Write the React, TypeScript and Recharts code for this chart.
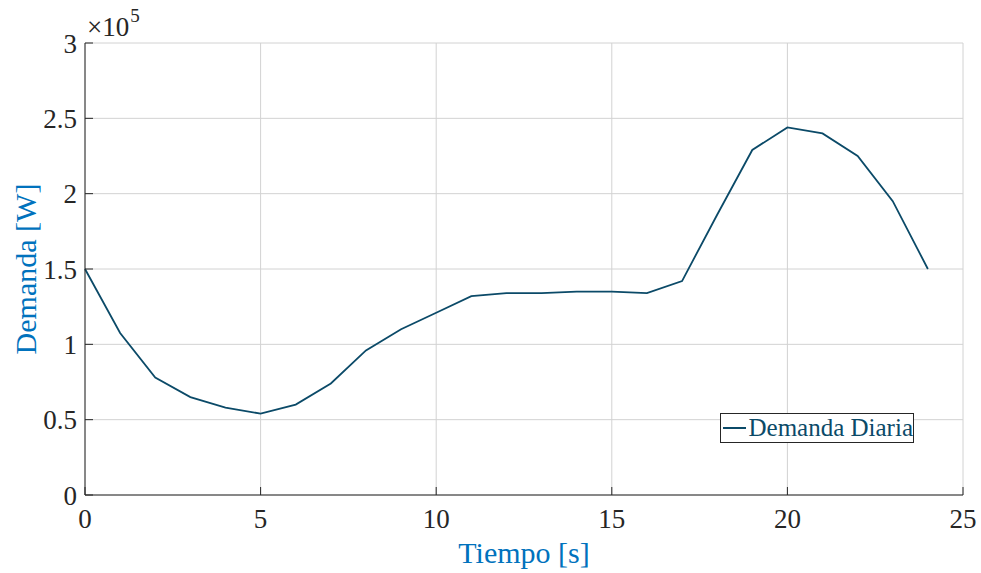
import { CartesianGrid, Line, LineChart, XAxis, YAxis } from 'recharts'

const hours = [0, 1, 2, 3, 4, 5, 6, 7, 8, 9, 10, 11, 12, 13, 14, 15, 16, 17, 18, 19, 20, 21, 22, 23, 24]
const demand = [
  150000, 107500, 78000, 65000, 58000, 54000, 60000, 74000, 96000, 110000, 121000, 132000, 134000,
  134000, 135000, 135000, 134000, 142000, 186000, 229000, 244000, 240000, 225000, 195000, 150000,
]
const xTicks = [0, 5, 10, 15, 20, 25]
const yTicks = [0, 50000, 100000, 150000, 200000, 250000, 300000]

const data = hours.map((h, i) => ({ hour: h, demand: demand[i] }))

const FONT = '"Liberation Serif", "DejaVu Serif", serif'
const AXIS = '#262626'
const LABEL = '#0072BD'
const LINE = '#0b4a68'

export default function App() {
  return (
    <div
      style={{
        position: 'absolute',
        left: 0,
        top: 0,
        width: 981,
        height: 573,
        background: '#fff',
        fontFamily: FONT,
      }}
    >
      <LineChart width={981} height={573} data={data} margin={{ top: 43, right: 18, left: 0, bottom: 0 }}>
        <CartesianGrid xAxisId="b" yAxisId="l" stroke="#d2d2d2" strokeWidth={1} />
        <XAxis
          xAxisId="b"
          dataKey="hour"
          type="number"
          domain={[0, 25]}
          ticks={xTicks}
          height={78}
          stroke={AXIS}
          tickSize={-8}
          tickMargin={22}
          tick={{ fill: AXIS, fontSize: 27, fontFamily: FONT }}
          label={{ value: 'Tiempo [s]', position: 'insideBottom', offset: 10, fill: LABEL, fontSize: 30, fontFamily: FONT }}
        />
        <XAxis
          xAxisId="t"
          orientation="top"
          dataKey="hour"
          type="number"
          domain={[0, 25]}
          ticks={xTicks}
          height={0}
          stroke={AXIS}
          tickSize={-8}
          tick={false}
        />
        <YAxis
          yAxisId="l"
          type="number"
          domain={[0, 300000]}
          ticks={yTicks}
          width={85}
          stroke={AXIS}
          tickSize={-8}
          tickMargin={16}
          tickFormatter={(v: number) => String(v / 100000)}
          tick={{ fill: AXIS, fontSize: 27, fontFamily: FONT }}
          label={{
            value: 'Demanda [W]',
            angle: -90,
            position: 'insideLeft',
            offset: 25,
            style: { textAnchor: 'middle' },
            fill: LABEL,
            fontSize: 30,
            fontFamily: FONT,
          }}
        />
        <YAxis
          yAxisId="r"
          orientation="right"
          type="number"
          domain={[0, 300000]}
          ticks={yTicks}
          width={0}
          stroke={AXIS}
          tickSize={-8}
          tick={false}
        />
        <Line
          xAxisId="b"
          yAxisId="l"
          dataKey="demand"
          type="linear"
          stroke={LINE}
          strokeWidth={1.8}
          dot={false}
          isAnimationActive={false}
        />
      </LineChart>

      {/* legend box, MATLAB style */}
      <div
        style={{
          position: 'absolute',
          left: 720,
          top: 413,
          width: 192,
          height: 28,
          display: 'flex',
          alignItems: 'center',
          background: '#fff',
          border: '1px solid #262626',
          fontSize: 25,
          color: LINE,
          whiteSpace: 'nowrap',
          overflow: 'hidden',
        }}
      >
        <span style={{ width: 24, borderTop: `2px solid ${LINE}`, marginLeft: 2, marginRight: 2 }} />
        Demanda Diaria
      </div>

      <div style={{ position: 'absolute', left: 87, top: 14, fontSize: 27, color: AXIS, lineHeight: 1 }}>
        ×10
        <span style={{ fontSize: 19, position: 'absolute', top: -8, marginLeft: 1 }}>5</span>
      </div>
    </div>
  )
}
